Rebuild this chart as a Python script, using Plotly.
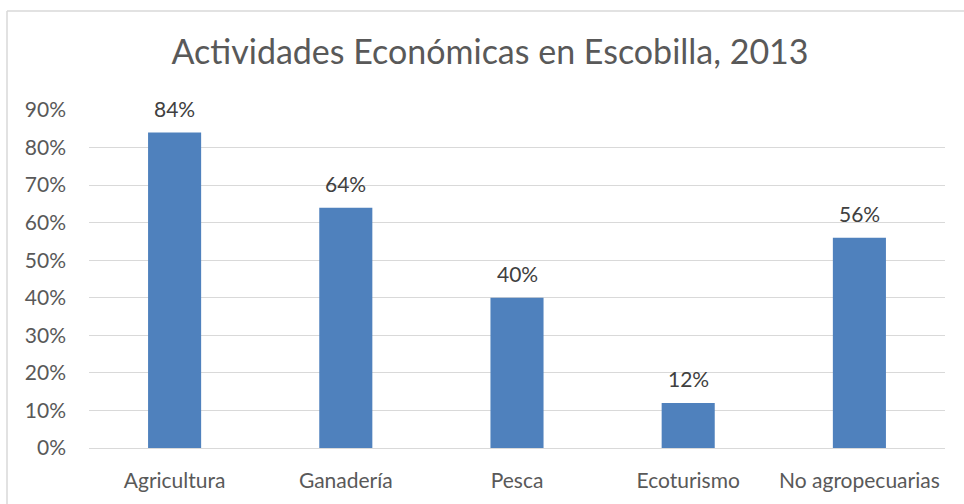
import plotly.graph_objects as go

categories = ["Agricultura", "Ganadería", "Pesca", "Ecoturismo", "No agropecuarias"]
values = [0.84, 0.64, 0.40, 0.12, 0.56]
labels = ["84%", "64%", "40%", "12%", "56%"]
tick_vals = [0, 0.1, 0.2, 0.3, 0.4, 0.5, 0.6, 0.7, 0.8, 0.9]
tick_text = ["0%", "10%", "20%", "30%", "40%", "50%", "60%", "70%", "80%", "90%"]
title = "Actividades Económicas en Escobilla, 2013"

W, H = 964, 504
L, R, T, B = 89, 19, 110, 56
pw, ph = W - L - R, H - T - B
TXT = "#595959"

fig = go.Figure(go.Bar(
    x=categories, y=values,
    marker=dict(color="#4F81BD", line=dict(width=0)),
    hoverinfo="skip",
))

annotations = [
    dict(x=c, y=v, text=t, xref="x", yref="y", showarrow=False,
         yanchor="bottom", yshift=10, font=dict(size=21, color="#404040"))
    for c, v, t in zip(categories, values, labels)
]

fig.update_layout(
    width=W, height=H,
    margin=dict(l=L, r=R, t=T, b=B, pad=0, autoexpand=False),
    paper_bgcolor="white", plot_bgcolor="white",
    font=dict(family="Lato, Open Sans, sans-serif", color=TXT, size=21),
    title=dict(text=title, x=490 / W, xanchor="center", y=(H - 52) / H, yanchor="middle",
               font=dict(size=34, color=TXT)),
    bargap=0.69,
    showlegend=False,
    annotations=annotations,
    xaxis=dict(showgrid=False, showline=True, linecolor="#D9D9D9", linewidth=1,
               automargin=False, fixedrange=True,
               ticks="", ticklabelstandoff=14, tickfont=dict(size=21, color=TXT)),
    yaxis=dict(range=[0, 0.9], tickvals=tick_vals, ticktext=tick_text,
               automargin=False, fixedrange=True,
               showgrid=True, gridcolor="#D9D9D9", gridwidth=1, zeroline=False,
               showline=False, ticks="", ticklabelstandoff=22,
               tickfont=dict(size=21, color=TXT)),
    shapes=[
        dict(type="line", xref="paper", yref="paper",
             x0=(7 - L) / pw, x1=(7 - L) / pw, y0=(H - B - 11) / ph, y1=(H - B - 520) / ph,
             line=dict(color="#D9D9D9", width=1.5)),
        dict(type="line", xref="paper", yref="paper",
             x0=(7 - L) / pw, x1=(980 - L) / pw, y0=(H - B - 11) / ph, y1=(H - B - 11) / ph,
             line=dict(color="#D9D9D9", width=1.5)),
    ],
)

fig.write_html("out.html", config={"displayModeBar": False},
               post_script="document.body.style.margin='0px';")
